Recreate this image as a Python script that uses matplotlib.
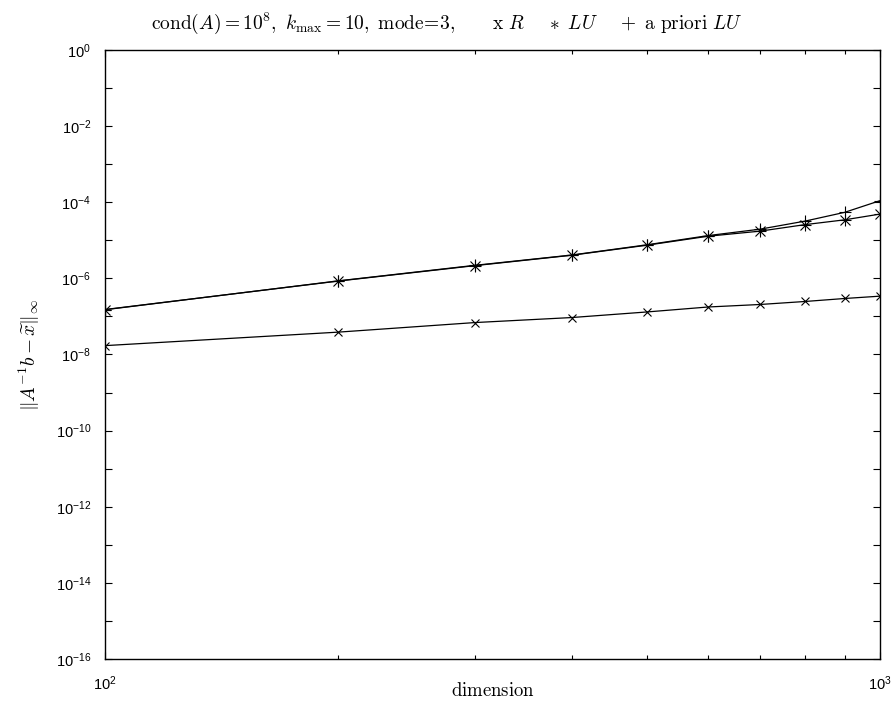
import matplotlib
matplotlib.use('Agg')
import matplotlib.pyplot as plt
from matplotlib.ticker import FixedLocator, NullFormatter
import numpy as np

plt.rcParams.update({
    'font.family': ['Liberation Sans', 'DejaVu Sans'],
    'mathtext.fontset': 'cm',
    'xtick.direction': 'in',
    'ytick.direction': 'in',
})

# ── data ────────────────────────────────────────────────────
dims = [100, 200, 300, 400, 500, 600, 700, 800, 900, 1000]
err_R = [1.71e-8, 3.87e-8, 6.9e-8, 9.35e-8, 1.31e-7, 1.77e-7, 2.06e-7, 2.47e-7, 2.96e-7, 3.41e-7]
err_LU = [1.52e-7, 8.5e-7, 2.16e-6, 4.05e-6, 7.43e-6, 1.28e-5, 1.74e-5, 2.58e-5, 3.45e-5, 4.89e-5]
err_apriori = [1.5e-7, 8.6e-7, 2.2e-6, 4.1e-6, 7.6e-6, 1.33e-5, 1.96e-5, 3.19e-5, 5.42e-5, 1.1e-4]

y_decades = list(range(-16, 1))
y_labelled = list(range(-16, 1, 2))

fig = plt.figure(figsize=(8.93, 7.04), dpi=100)
ax = fig.add_axes([105 / 893, 1 - 659 / 704, 775 / 893, 609 / 704])

lw = 0.9
ax.plot(dims, err_R, color='black', lw=lw, marker='x', ms=6, mew=0.8)
ax.plot(dims, err_LU, color='black', lw=lw, marker='x', ms=6.5, mew=0.8)
ax.plot(dims, err_LU, color='none', marker='+', ms=8.5, mew=0.8, mec='black')
ax.plot(dims, err_apriori, color='black', lw=lw, marker='+', ms=9, mew=0.8)

ax.set_xscale('log')
ax.set_yscale('log')
ax.set_xlim(100, 1000)
ax.set_ylim(1e-16, 1e0)

ax.xaxis.set_major_locator(FixedLocator([100, 1000]))
ax.set_xticklabels([r'$\mathregular{10^{2}}$', r'$\mathregular{10^{3}}$'])
ax.xaxis.set_minor_locator(FixedLocator([200, 300, 400, 500, 600, 700, 800, 900]))
ax.xaxis.set_minor_formatter(NullFormatter())

ax.yaxis.set_major_locator(FixedLocator([10.0 ** k for k in y_decades]))
ax.set_yticklabels([r'$\mathregular{10^{%d}}$' % k if k in y_labelled else ''
                    for k in y_decades])
ax.yaxis.set_minor_locator(FixedLocator([]))

ax.tick_params(which='both', top=True, right=True, labelsize=10.5, width=0.8)
ax.tick_params(axis='y', which='major', length=5, pad=10)
ax.tick_params(axis='x', which='major', length=5, pad=11)
ax.tick_params(axis='x', which='minor', length=3)
for s in ax.spines.values():
    s.set_linewidth(1.0)

ax.set_xlabel(r'$\mathrm{dimension}$', fontsize=13.5, va='center')
ax.xaxis.set_label_coords(0.5, -0.052)
ax.set_ylabel(r'$\|A^{-1}b-\widetilde{x}\|_\infty$', fontsize=14, labelpad=10)
# title is centred on the figure, not on the axes
ax.set_title(r'$\mathrm{cond}(A) = 10^8,\ k_{\max} = 10,\ \mathrm{mode}\!=\!\mathrm{3,}\qquad'
             r'\mathrm{x}\ R\quad\ *\ LU\quad\ +\ \mathrm{a\ priori}\ LU$',
             fontsize=14, pad=15, x=(446.5 - 105) / 775)

fig.savefig('out.png', dpi=100, facecolor='white')
